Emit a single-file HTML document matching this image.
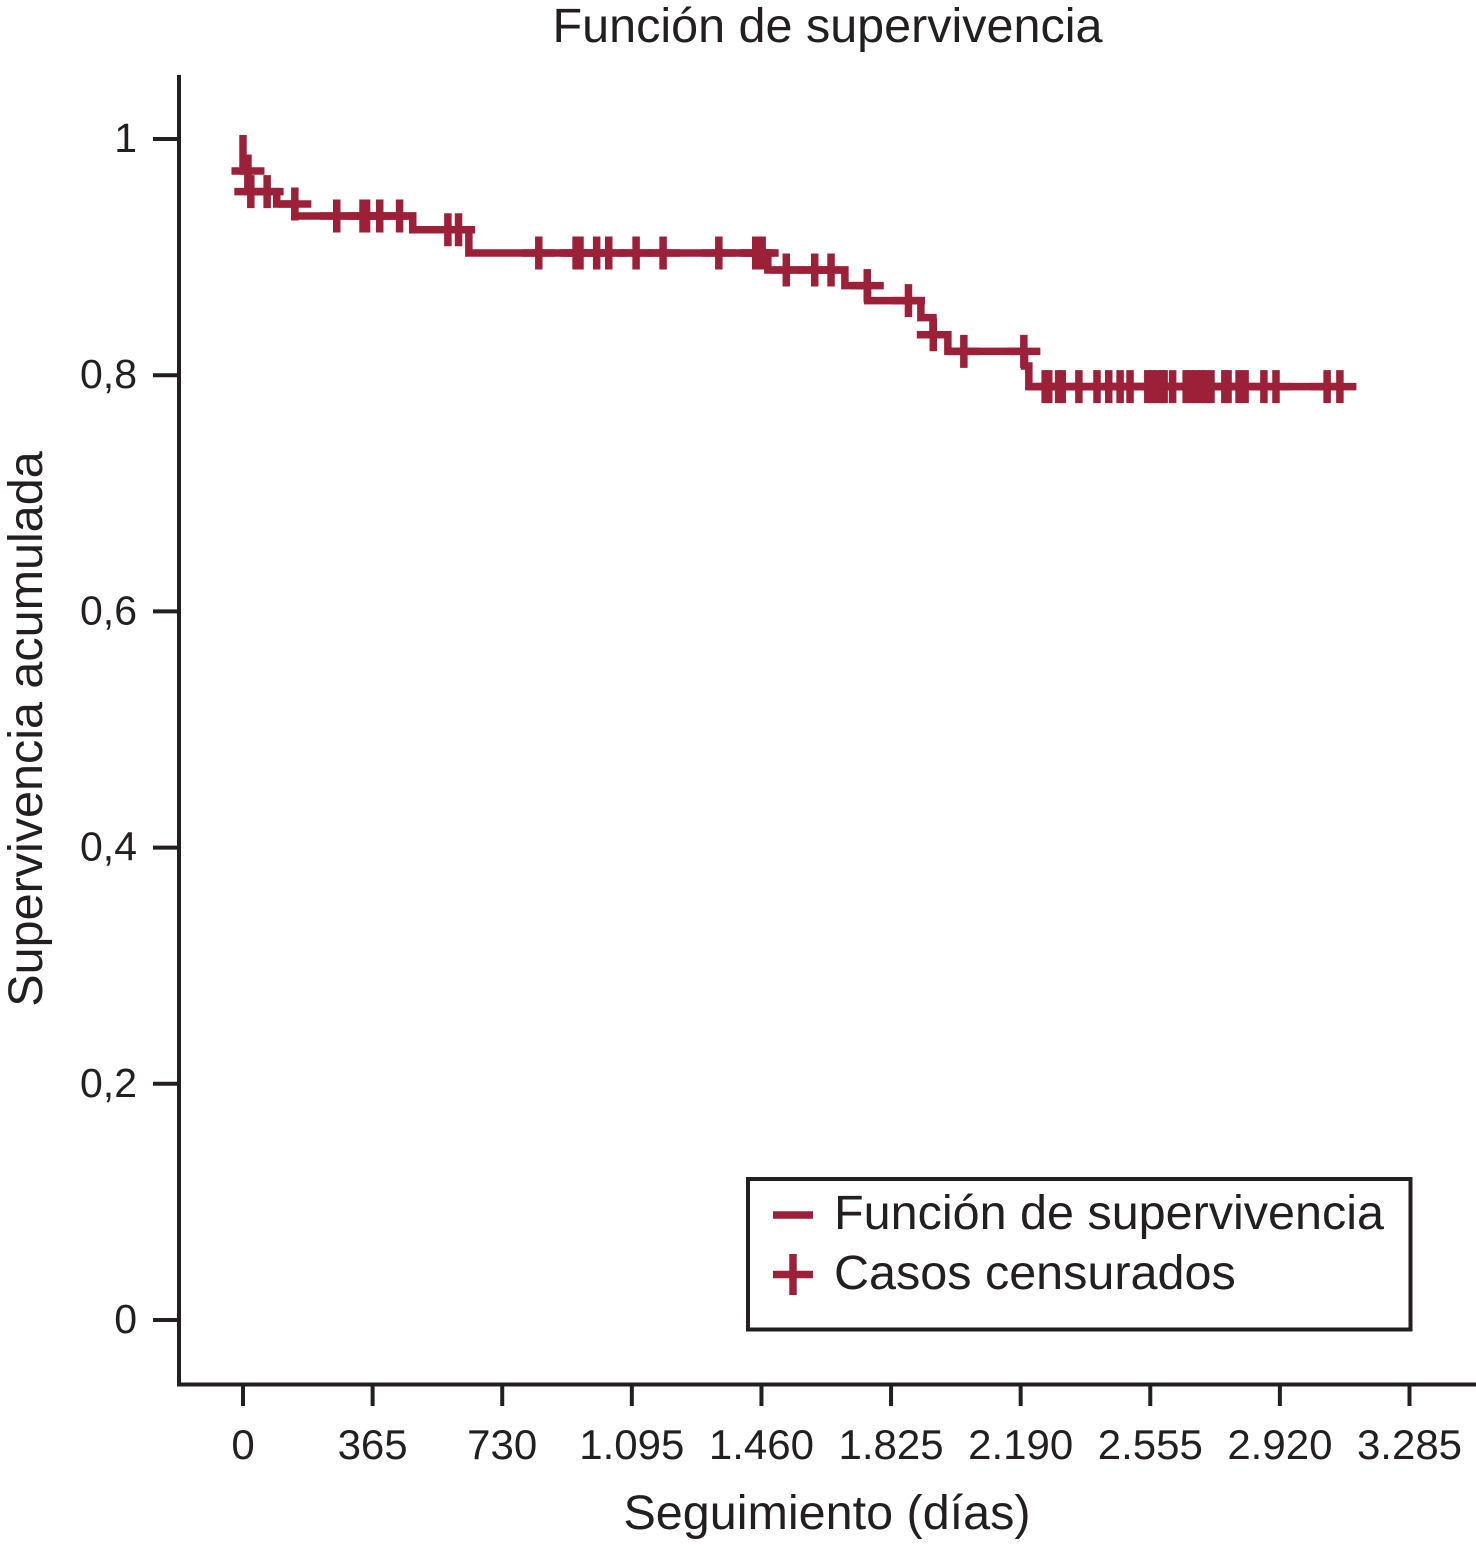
<!DOCTYPE html>
<html lang="es">
<head>
<meta charset="utf-8">
<title>Función de supervivencia</title>
<style>
html,body{margin:0;padding:0;background:#fff;}
body{width:1476px;height:1545px;overflow:hidden;}
svg{display:block;}
text{font-family:"Liberation Sans",Arial,sans-serif;fill:#231f20;}
</style>
</head>
<body>
<svg id="chart" xmlns="http://www.w3.org/2000/svg" width="1476" height="1545" viewBox="0 0 1476 1545">
  <rect x="0" y="0" width="1476" height="1545" fill="#ffffff"/>
  <text x="827.5" y="42" font-size="48.5" text-anchor="middle">Función de supervivencia</text>
  <text transform="translate(42 729) rotate(-90)" font-size="48.5" text-anchor="middle">Supervivencia acumulada</text>
  <text x="827" y="1529" font-size="48.5" text-anchor="middle">Seguimiento (días)</text>
  <line x1="179" y1="75" x2="179" y2="1386" stroke="#231f20" stroke-width="4"/>
  <line x1="177" y1="1384.5" x2="1476" y2="1384.5" stroke="#231f20" stroke-width="4"/>
  <g id="axes"></g>
  <g id="series"></g>
  <g>
    <rect x="748" y="1179" width="662.5" height="150.5" fill="#ffffff" stroke="#231f20" stroke-width="4"/>
    <line x1="773" y1="1215" x2="813" y2="1215" stroke="#9b2038" stroke-width="7.5"/>
    <text x="834" y="1229" font-size="48.5">Función de supervivencia</text>
    <line x1="773" y1="1274.5" x2="813" y2="1274.5" stroke="#9b2038" stroke-width="7.5"/>
    <line x1="793" y1="1254" x2="793" y2="1295" stroke="#9b2038" stroke-width="7.5"/>
    <text x="834" y="1289" font-size="48.5">Casos censurados</text>
  </g>
</svg>
<script>
// Chart data
const xTickValues = [0, 365, 730, 1095, 1460, 1825, 2190, 2555, 2920, 3285];
const xTickLabels = ["0", "365", "730", "1.095", "1.460", "1.825", "2.190", "2.555", "2.920", "3.285"];
const yTickValues = [0, 0.2, 0.4, 0.6, 0.8, 1];
const yTickLabels = ["0", "0,2", "0,4", "0,6", "0,8", "1"];
const stepDays = [0, 0, 14, 95, 146, 478, 636, 1478, 1695, 1759, 1909, 1943, 1985, 2201, 2213];
const stepSurvival = [1, 0.9729, 0.9554, 0.9450, 0.9348, 0.9232, 0.9035, 0.8891, 0.8758, 0.8631, 0.8487, 0.8343, 0.8202, 0.8078, 0.7903];
const censoredDays = [14, 22, 68, 146, 264, 338, 348, 385, 441, 577, 607, 833, 938, 949, 996, 1030, 1107, 1183, 1340, 1444, 1452, 1462, 1530, 1610, 1656, 1758, 1874, 1944, 2030, 2199, 2259, 2269, 2297, 2307, 2354, 2405, 2438, 2470, 2498, 2548, 2560, 2574, 2588, 2594, 2618, 2656, 2670, 2684, 2698, 2712, 2726, 2765, 2774, 2805, 2822, 2875, 2909, 3053, 3089];

const SVG_NS = "http://www.w3.org/2000/svg";
const INK = "#231f20";
const CURVE = "#9b2038";
function xScale(day) { return 243 + day * 0.3551; }
function yScale(s) { return 1320 - s * 1181; }
function survivalAt(day) {
  let s = stepSurvival[0];
  for (let i = 0; i < stepDays.length; i++) {
    if (stepDays[i] < day) s = stepSurvival[i];
  }
  return s;
}
function make(tag, attrs, parent) {
  const el = document.createElementNS(SVG_NS, tag);
  for (const k in attrs) el.setAttribute(k, attrs[k]);
  parent.appendChild(el);
  return el;
}
const axes = document.getElementById("axes");
const series = document.getElementById("series");

xTickValues.forEach(function (v, i) {
  const x = xScale(v);
  const tick = make("line", { x1: x, y1: 1384, x2: x, y2: 1406, stroke: INK, "stroke-width": 4 }, axes);
  
  
  const label = make("text", { x: x, y: 1459, "font-size": 42, "text-anchor": "middle" }, axes);
  label.textContent = xTickLabels[i];
  
  
});

yTickValues.forEach(function (v, i) {
  const y = yScale(v);
  const tick = make("line", { x1: 153, y1: y, x2: 179, y2: y, stroke: INK, "stroke-width": 4 }, axes);
  
  
  const label = make("text", { x: 137, y: y + 13, "font-size": 41, "text-anchor": "end" }, axes);
  label.textContent = yTickLabels[i];
  
  
});

let d = "M" + xScale(stepDays[0]) + " " + (yScale(stepSurvival[0]) - 4);
for (let i = 1; i < stepDays.length; i++) {
  d += "V" + yScale(stepSurvival[i]);
  const next = i + 1 < stepDays.length ? stepDays[i + 1] : censoredDays[censoredDays.length - 1];
  d += "H" + xScale(next);
}
const curve = make("path", { d: d, fill: "none", stroke: CURVE, "stroke-width": 7.5, "stroke-linejoin": "miter" }, series);



censoredDays.forEach(function (day) {
  const x = xScale(day);
  const y = yScale(survivalAt(day));
  const r = 16.5;
  const mark = make("path", { d: "M" + (x - r) + " " + y + "H" + (x + r) + "M" + x + " " + (y - r) + "V" + (y + r), fill: "none", stroke: CURVE, "stroke-width": 7.5 }, series);
  
  
});
</script>
</body>
</html>
